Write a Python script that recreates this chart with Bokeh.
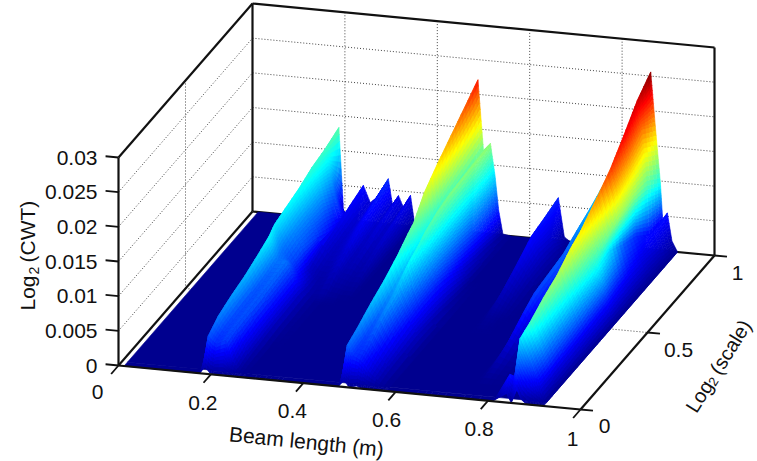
import math
import numpy as np
from bokeh.plotting import figure
from bokeh.embed import file_html
from bokeh.resources import INLINE
from bokeh.core.properties import value

# ---------- data ----------
scale_rows = [0, .025, .1, .2, .3, .4, .48, .52, .6, .7, .8, .9, 1]

beam_a = [.175, .187, .197, .205, .225, .24, .255, .27, .294, .303, .316, .327, .342, .352]
cwt_a = [
 [0, .001, .0002, 0, 0, 0, 0, 0, 0, 0, 0, 0, 0, 0],
 [0, .0049, .0042, .0038, .0045, .0015, .0002, 0, 0, 0, 0, 0, 0, 0],
 [0, .0061, .005, .0044, .0048, .0025, .0006, 0, 0, 0, 0, 0, 0, 0],
 [0, .0069, .0055, .0046, .005, .003, .0009, 0, 0, 0, 0, 0, 0, 0],
 [0, .0075, .0058, .0048, .0052, .0032, .0012, .0002, 0, 0, 0, 0, 0, 0],
 [0, .0084, .0065, .0052, .0055, .0034, .0013, .0003, 0, 0, 0, 0, 0, 0],
 [0, .0092, .007, .0058, .0058, .0036, .0014, .0004, 0, 0, 0, 0, 0, 0],
 [0, .01, .0078, .0066, .0045, .0028, .0012, .0004, .0005, .0002, .0002, 0, 0, 0],
 [0, .0105, .0085, .0072, .0048, .0022, .0012, .001, .002, .0012, .001, .0007, .0008, 0],
 [0, .0111, .009, .0075, .0042, .0032, .0018, .002, .0033, .0016, .002, .0012, .0018, 0],
 [0, .012, .0095, .0078, .003, .0038, .0022, .0028, .0045, .002, .0028, .0018, .0028, 0],
 [0, .0125, .0085, .0062, .002, .0046, .0026, .0034, .0056, .0025, .0036, .0022, .0036, 0],
 [0, .0133, .0013, .0002, 0, .0053, .0029, .0038, .0066, .0029, .0043, .0026, .0045, 0],
]

beam_b = [.475, .488, .5, .515, .525, .533, .542, .56, .58]
cwt_b = [
 [0, .0009, 0, .0003, 0, 0, 0, 0, 0],
 [0, .0055, .004, .0035, .0028, .002, .0014, .0005, 0],
 [0, .0063, .0042, .0046, .0035, .0028, .002, .0008, 0],
 [0, .0076, .005, .0063, .0048, .0037, .0027, .001, 0],
 [0, .0087, .0062, .0074, .0056, .0044, .0032, .0012, 0],
 [0, .0101, .0075, .0095, .007, .0052, .0036, .001, 0],
 [0, .0115, .0085, .0105, .0078, .0058, .0036, .0008, 0],
 [0, .0121, .009, .0112, .008, .006, .0035, .0006, 0],
 [0, .0147, .0095, .012, .0085, .0058, .003, .0003, 0],
 [0, .0167, .0105, .0126, .0088, .0055, .0018, 0, 0],
 [0, .0185, .011, .0128, .0088, .005, .0012, 0, 0],
 [0, .0203, .0115, .013, .0088, .0045, .0008, 0, 0],
 [0, .0221, .012, .0131, .0085, .0035, .0002, 0, 0],
]

beam_c = [.645, .662, .675, .688, .705]
cwt_c = [
 [0, 0, 0, 0, 0],
 [0, 0, 0, 0, 0],
 [0, 0, 0, 0, 0],
 [0, 0, 0, 0, 0],
 [0, 0, 0, 0, 0],
 [0, 0, 0, 0, 0],
 [0, .0004, .0002, 0, 0],
 [0, .001, .0006, .0002, 0],
 [0, .0022, .0014, .0006, 0],
 [0, .0036, .0024, .001, 0],
 [0, .0051, .0032, .0012, 0],
 [0, .0056, .0028, .001, 0],
 [0, .0062, .0006, 0, 0],
]

beam_d = [.745, .76, .78, .81, .84, .85, .862, .872, .883, .888, .898, .908, .92]
cwt_d = [
 [0, 0, 0, 0, .0013, 0, .002, .0006, 0, 0, 0, 0, 0],
 [0, 0, 0, 0, .0035, .003, .0088, .0073, .0056, .0048, .0033, .0018, 0],
 [0, 0, 0, 0, .0012, .0012, .0095, .0079, .0061, .0053, .0036, .0019, 0],
 [0, .0008, .0004, 0, 0, .0004, .0108, .009, .0069, .006, .0041, .0022, 0],
 [0, .002, .001, .0002, 0, .0004, .0118, .0098, .0076, .0066, .0045, .0024, 0],
 [0, .0035, .0018, .0004, 0, .0004, .0134, .0111, .0086, .0074, .0051, .0027, 0],
 [0, .0045, .0024, .0006, 0, .0004, .0143, .0119, .0092, .008, .0054, .0029, 0],
 [0, .0047, .0026, .0006, 0, .0004, .015, .0125, .0096, .0083, .0057, .003, 0],
 [0, .005, .0028, .0006, 0, .0004, .0164, .0136, .0105, .0088, .006, .0033, 0],
 [0, .0054, .003, .0006, 0, .0004, .0183, .0155, .0115, .0075, .0055, .0034, 0],
 [0, .0065, .0034, .0006, 0, .0004, .0209, .0175, .012, .0065, .0048, .0032, 0],
 [0, .0075, .0038, .0006, 0, .0004, .0237, .0195, .0115, .0045, .005, .0028, 0],
 [0, .0087, .0038, .0004, 0, .0004, .0256, .0178, .0097, .0043, .0055, .0015, 0],
]

# the original's colours do not follow height exactly:
# (first beam, last beam, first scale, last scale, colour gain)
colour_gains = [
    (.24, .342, .6, 1, .6),
    (.645, .705, 0, 1, .6),
    (.888, .908, .6, .6, .85),
    (.888, .908, .7, .7, .72),
    (.888, .908, .8, 1, .6),
    (.175, .205, .52, 1, .88),
    (.85, .898, .1, .6, 1.15),
    (.85, .883, .7, .7, 1.15),
    (.85, .883, .8, .8, 1.08),
]

x_ticks = [0, .2, .4, .6, .8, 1]
x_tick_labels = ["0", "0.2", "0.4", "0.6", "0.8", "1"]
s_ticks = [0, .5, 1]
s_tick_labels = ["0", "0.5", "1"]
z_ticks = [0, .005, .01, .015, .02, .025, .03]
z_tick_labels = ["0", "0.005", "0.01", "0.015", "0.02", "0.025", "0.03"]
CMAX = .026
ZTOP = .03

# ---------- projection ----------
def proj(x, s, z=0.0):
    return (118 + 462 * np.asarray(x) + 134 * np.asarray(s),
            365 + 44 * np.asarray(x) - 154 * np.asarray(s) - 208 * np.asarray(z) / ZTOP)

def jet_hex(t):
    t = min(max(t, 0), 1) + 1 / 64
    f = lambda v: int(255 * min(max(v, 0), 1) + .5)
    r = f(min(4 * t - 1.5, -4 * t + 4.5))
    g = f(min(4 * t - .5, -4 * t + 3.5))
    b = f(min(4 * t + .5, -4 * t + 2.5))
    return f"#{r:02x}{g:02x}{b:02x}"

p = figure(width=757, height=461, x_range=(0, 757), y_range=(461, 0),
           toolbar_location=None, output_backend="svg", min_border=0,
           x_axis_location=None, y_axis_location=None, outline_line_color=None,
           background_fill_color="white", border_fill_color="white")
p.grid.visible = False

def seg(a, b, **kw):
    p.line([a[0], b[0]], [a[1], b[1]], **kw)

# ---------- dotted grid on the walls ----------
grid = dict(line_color="#444444", line_width=1, line_dash="1 2")
for z in z_ticks[1:-1]:
    a, d, c = proj(0, 0, z), proj(0, 1, z), proj(1, 1, z)
    seg(a, d, **grid)
    seg(d, c, **grid)
for x in x_ticks[1:-1]:
    seg(proj(x, 1, 0), proj(x, 1, ZTOP), **grid)
seg(proj(0, .5, 0), proj(0, .5, ZTOP), **grid)
seg(proj(0, .5, 0), proj(1, .5, 0), **grid)

# ---------- back box ----------
box = dict(line_color="#111111", line_width=2.2)
seg(proj(0, 1, 0), proj(0, 1, ZTOP), **box)
seg(proj(0, 0, ZTOP), proj(0, 1, ZTOP), **box)
seg(proj(0, 1, ZTOP), proj(1, 1, ZTOP), **box)
seg(proj(1, 1, 0), proj(1, 1, ZTOP), **box)
seg(proj(0, 1, 0), proj(1, 1, 0), **box)

# ---------- surface ----------
beam = np.array([.012] + beam_a + beam_b + beam_c + beam_d)
S = np.array(scale_rows)
Z = np.hstack([np.zeros((len(S), 1)), np.array(cwt_a), np.array(cwt_b), np.array(cwt_c), np.array(cwt_d)])
C = Z.copy()
for lo, hi, s0, s1, gain in colour_gains:
    C[np.ix_((S >= s0) & (S <= s1), (beam >= lo) & (beam <= hi))] *= gain

navy = jet_hex(0)
front_x, front_y = [], []
xs, ys, cols = [], [], []
for i in range(len(S) - 2, -1, -1):
    for j in range(len(beam) - 1):
        zc = Z[np.ix_([i, i + 1], [j, j + 1])]
        cc = C[np.ix_([i, i + 1], [j, j + 1])]
        if zc.max() == 0:
            if i == 0:
                px, py = proj([beam[j], beam[j + 1], beam[j + 1], beam[j]], [S[0], S[0], S[1], S[1]])
                front_x.append([float(q) for q in px]); front_y.append([float(q) for q in py])
            continue
        nx = int(min(max(2, math.ceil(abs(zc[:, 1] - zc[:, 0]).max() / .0005)), 12))
        ns = int(min(max(4, math.ceil(abs(zc[1, :] - zc[0, :]).max() / .0005)), 10))
        for a in range(ns - 1, -1, -1):
            for b in range(nx):
                u = np.array([b, b + 1, b + 1, b]) / nx
                v = np.array([a, a, a + 1, a + 1]) / ns
                xx = beam[j] + u * (beam[j + 1] - beam[j])
                ss = S[i] + v * (S[i + 1] - S[i])
                bil = lambda m: ((1 - u) * (1 - v) * m[0, 0] + u * (1 - v) * m[0, 1]
                                 + (1 - u) * v * m[1, 0] + u * v * m[1, 1])
                zz = bil(zc)
                px, py = proj(xx, ss, zz)
                xs.append([float(q) for q in px]); ys.append([float(q) for q in py])
                cols.append(jet_hex(float(bil(cc).mean()) / CMAX))

# floor behind the first row; the first row keeps its gaps where the surface lifts off
fx, fy = proj([beam[0], beam[-1], beam[-1], beam[0]], [S[1], S[1], 1, 1])
p.patch([float(q) for q in fx], [float(q) for q in fy], fill_color=navy, line_color=navy, line_width=.6)
p.patches(front_x, front_y, fill_color=navy, line_color=navy, line_width=.6)
p.patches(xs, ys, fill_color=cols, line_color=cols, line_width=.6)

# ---------- front box and ticks ----------
seg(proj(0, 0, 0), proj(0, 0, ZTOP), **box)
seg(proj(0, 0, 0), proj(1, 0, 0), **box)
seg(proj(0, 0, 0), proj(0, 1, 0), **box)
seg(proj(1, 0, 0), proj(1, 1, 0), **box)

tick = dict(line_color="#111111", line_width=1.8)
for z in z_ticks:
    seg(proj(0, 0, z), proj(-.028, 0, z), **tick)
for x in x_ticks:
    seg(proj(x, 0, 0), proj(x, -.055, 0), **tick)
for s in s_ticks:
    seg(proj(1, s, 0), proj(1.027, s, 0), **tick)

# ---------- texts ----------
FONT = value("Liberation Sans")

def label(x, y, t, align="center", base="middle", angle=0.0, size="21px"):
    p.text([x], [y], text=[t], text_align=align, text_baseline=base, angle=angle,
           text_font=FONT, text_font_size=size, text_color="#111111")

for z, t in zip(z_ticks, z_tick_labels):
    px, py = proj(0, 0, z)
    label(float(px) - 21, float(py), t, align="right")
x_off = [(-21, 26), (-8, 29), (-11, 28), (-9, 28), (-9, 28), (-8, 29)]
for x, t, o in zip(x_ticks, x_tick_labels, x_off):
    px, py = proj(x, 0, 0)
    label(float(px) + o[0], float(py) + o[1], t)
s_off = [(24, 16), (31, 17), (23, 17)]
for s, t, o in zip(s_ticks, s_tick_labels, s_off):
    px, py = proj(1, s, 0)
    label(float(px) + o[0], float(py) + o[1], t)

label(306, 441, "Beam length (m)", angle=-0.1, size="21px")

# Log2 (CWT), reading upwards
label(27, 310, "Log", align="left", base="alphabetic", angle=math.pi / 2, size="21px")
label(33.5, 274, "2", align="left", base="alphabetic", angle=math.pi / 2, size="14px")
label(27, 262, "(CWT)", align="left", base="alphabetic", angle=math.pi / 2, size="21px")

# Log2 (scale), along the scale axis
ang = math.radians(58)
label(690, 410, "Log", align="left", base="alphabetic", angle=ang, size="20px")
label(711, 384, "2", align="left", base="alphabetic", angle=ang, size="13px")
label(714, 372, "(scale)", align="left", base="alphabetic", angle=ang, size="20px")

open("out.html", "w").write(file_html(p, INLINE))
